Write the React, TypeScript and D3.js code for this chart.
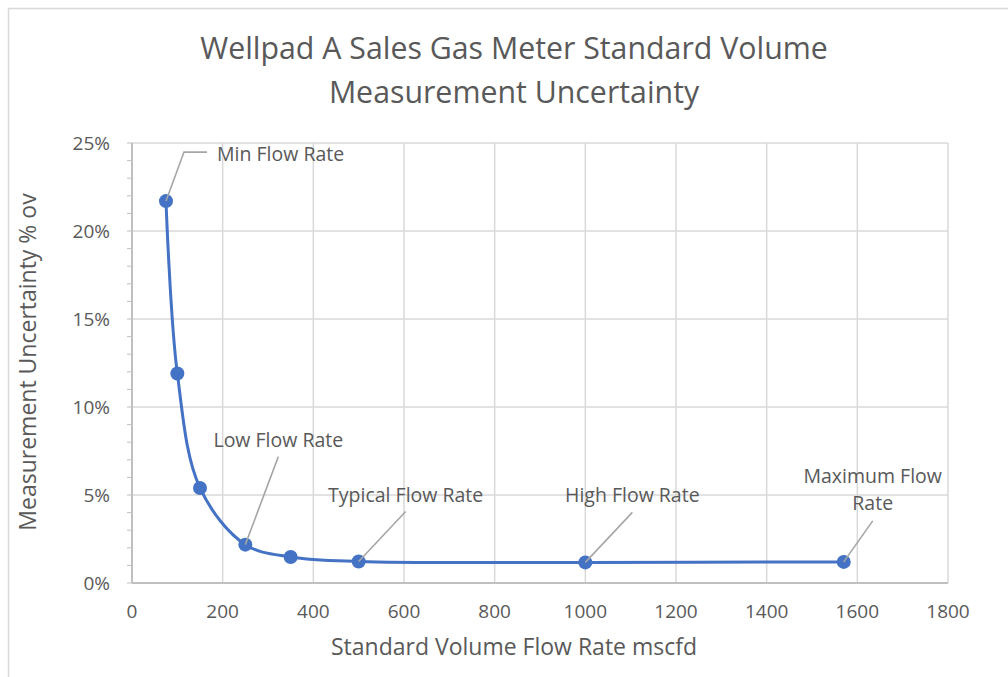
import React from "react";
import * as d3 from "d3";

const flowRates = [75, 100, 150, 250, 350, 500, 1000, 1570];
const uncertainty = [0.217, 0.119, 0.054, 0.0218, 0.0148, 0.0122, 0.0117, 0.012];
const xTicks = [0, 200, 400, 600, 800, 1000, 1200, 1400, 1600, 1800];
const yTicks = [0, 0.05, 0.1, 0.15, 0.2, 0.25];
const yMinorTicks = d3.range(0, 0.2501, 0.01);
const titleLines = ["Wellpad A Sales Gas Meter Standard Volume", "Measurement Uncertainty"];
const xTitle = "Standard Volume Flow Rate mscfd";
const yTitle = "Measurement Uncertainty % ov";
const annotations = [
  { idx: 0, lines: ["Min Flow Rate"], kind: "elbow" },
  { idx: 3, lines: ["Low Flow Rate"], kind: "up" },
  { idx: 5, lines: ["Typical Flow Rate"], kind: "up" },
  { idx: 6, lines: ["High Flow Rate"], kind: "up" },
  { idx: 7, lines: ["Maximum Flow", "Rate"], kind: "up2" },
];

const W = 1008;
const H = 677;
const M = { left: 132, right: 948, top: 143, bottom: 583 };
const FONT = "'Open Sans', sans-serif";
const TEXT = "#595959";
const GRID = "#d9d9d9";
const LBL = 19.5;
const TICK = 19;

export default function App() {
  const x = d3.scaleLinear().domain([0, 1800]).range([M.left, M.right]);
  const y = d3.scaleLinear().domain([0, 0.25]).range([M.bottom, M.top]);
  const pts: [number, number][] = flowRates.map((f, i) => [x(f), y(uncertainty[i])]);
  const line = d3.line().curve(d3.curveCatmullRom.alpha(0.5))(pts) || "";
  const fmt = d3.format(".0%");

  const annEls = annotations.map((a, k) => {
    const [px, py] = pts[a.idx];
    if (a.kind === "elbow") {
      return (
        <g key={k}>
          <polyline points={`${px},${py} ${px + 18},${py - 49} ${px + 41},${py - 49}`} fill="none" stroke="#a6a6a6" strokeWidth={1.6} />
          <text x={px + 51} y={py - 40} fontSize={LBL} fill={TEXT} fontFamily={FONT}>{a.lines[0]}</text>
        </g>
      );
    }
    const dx = a.kind === "up2" ? 29 : a.idx === 3 ? 33 : 47;
    const endY = a.kind === "up2" ? py - 41 : a.idx === 3 ? py - 88 : py - 50;
    const textY = a.kind === "up2" ? py - 79 : a.idx === 3 ? py - 98 : py - 60;
    return (
      <g key={k}>
        <line x1={px} y1={py} x2={px + dx} y2={endY} stroke="#a6a6a6" strokeWidth={1.6} />
        {a.lines.map((l, j) => (
          <text key={j} x={px + dx} y={textY + j * 27} textAnchor="middle" fontSize={LBL} fill={TEXT} fontFamily={FONT}>{l}</text>
        ))}
      </g>
    );
  });

  return (
    <svg width={W} height={H} style={{ position: "absolute", left: 0, top: 0, background: "#fff" }}>
      <rect x={8.5} y={8.5} width={W + 20} height={H + 20} fill="#fff" stroke={GRID} strokeWidth={1.5} />
      {titleLines.map((t, i) => (
        <text key={i} x={514} y={59 + i * 44} textAnchor="middle" fontSize={30.3} fill={TEXT} fontFamily={FONT}>{t}</text>
      ))}
      {xTicks.map((t) => (
        <line key={"gx" + t} x1={x(t)} x2={x(t)} y1={M.top} y2={M.bottom} stroke={GRID} strokeWidth={1.5} />
      ))}
      {yTicks.map((t) => (
        <line key={"gy" + t} x1={M.left} x2={M.right} y1={y(t)} y2={y(t)} stroke={GRID} strokeWidth={1.5} />
      ))}
      {yMinorTicks.map((t, i) => (
        <line key={"my" + i} x1={M.left - 5} x2={M.left} y1={y(t)} y2={y(t)} stroke="#bfbfbf" strokeWidth={1} />
      ))}
      <line x1={M.left} x2={M.left} y1={M.top} y2={M.bottom} stroke="#bfbfbf" strokeWidth={2} />
      <line x1={M.left} x2={M.right} y1={M.bottom} y2={M.bottom} stroke="#bfbfbf" strokeWidth={2} />
      {xTicks.map((t) => (
        <text key={"xl" + t} x={x(t)} y={M.bottom + 35} textAnchor="middle" fontSize={TICK} fill={TEXT} fontFamily={FONT}>{t}</text>
      ))}
      {yTicks.map((t) => (
        <text key={"yl" + t} x={M.left - 22} y={y(t) + 7} textAnchor="end" fontSize={TICK} fill={TEXT} fontFamily={FONT}>{fmt(t)}</text>
      ))}
      <text x={514} y={655} textAnchor="middle" fontSize={23} fill={TEXT} fontFamily={FONT}>{xTitle}</text>
      <text transform={`translate(36,${362}) rotate(-90)`} textAnchor="middle" fontSize={23} fill={TEXT} fontFamily={FONT}>{yTitle}</text>
      <path d={line} fill="none" stroke="#4472C4" strokeWidth={3} />
      {pts.map((p, i) => (
        <circle key={i} cx={p[0]} cy={p[1]} r={7} fill="#4472C4" />
      ))}
      {annEls}
    </svg>
  );
}
